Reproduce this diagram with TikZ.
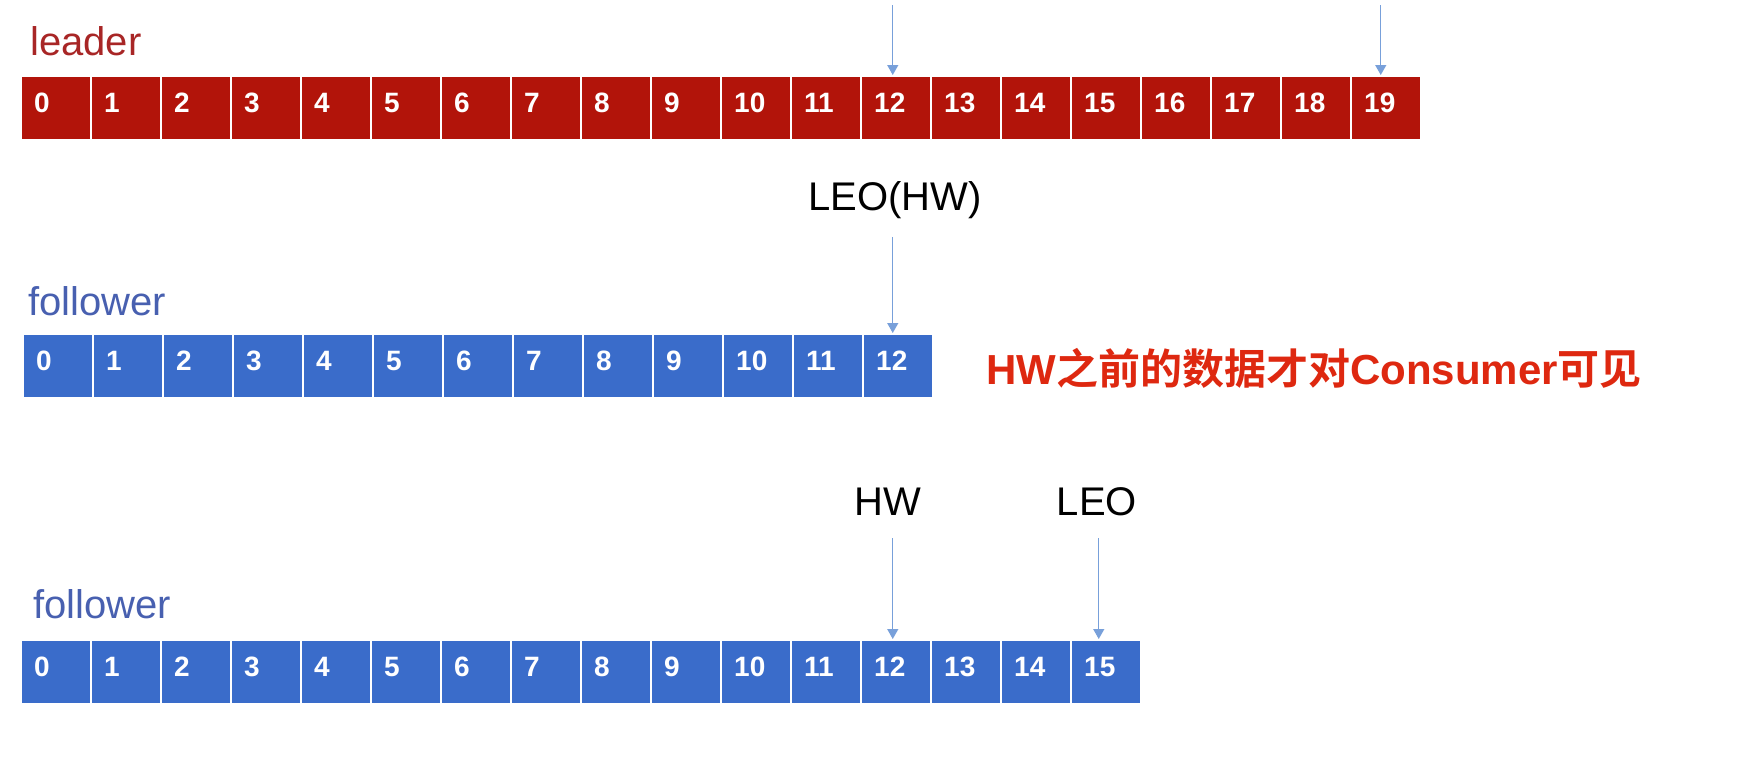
\documentclass[tikz,border=0pt]{standalone}
\usepackage{fontspec}
\setmainfont{Liberation Sans}
\newfontfamily\cjk{Noto Sans CJK SC}[BoldFont={* Bold}]
\usetikzlibrary{arrows.meta,calc}
\definecolor{leadfill}{RGB}{178,20,10}
\definecolor{leadtext}{RGB}{168,38,38}
\definecolor{follfill}{RGB}{58,108,202}
\definecolor{folltext}{RGB}{72,96,176}
\definecolor{arrblue}{RGB}{120,160,218}
\definecolor{notered}{RGB}{222,40,16}
\tikzset{
  cellbox/.style={draw=white, line width=1.5pt, minimum width=70pt, minimum height=64pt, inner sep=0pt, anchor=north west},
  lcell/.style={cellbox, fill=leadfill},
  fcell/.style={cellbox, fill=follfill},
  num/.style={text=white, font=\fontsize{28}{30}\selectfont\bfseries, inner sep=0pt, anchor=base west},
  rowname/.style={font=\fontsize{40}{44}\selectfont, inner sep=0pt, anchor=west},
  ptr/.style={font=\fontsize{40}{44}\selectfont, inner sep=0pt, text=black},
  arr/.style={draw=arrblue, line width=1.3pt, -{Triangle[length=10pt,width=11pt]}}
}
\begin{document}
\begin{tikzpicture}[x=1pt,y=-1pt]
\useasboundingbox (0,0) rectangle (1738,779);
% row names
\node[rowname, text=leadtext] (leader) at (30,41) {leader};
\node[rowname, text=folltext] (f1name) at (28,301) {follower};
\node[rowname, text=folltext] (f2name) at (33,604) {follower};
% leader row
\foreach \i in {0,...,19}{
  \node[lcell] (L\i) at (20+70*\i,75) {};
  \node[num] at ($(L\i.north west)+(14,37)$) {\i};
}
% follower 1
\foreach \i in {0,...,12}{
  \node[fcell] (A\i) at (22+70*\i,333) {};
  \node[num] at ($(A\i.north west)+(14,37)$) {\i};
}
% follower 2
\foreach \i in {0,...,15}{
  \node[fcell] (B\i) at (20+70*\i,639) {};
  \node[num] at ($(B\i.north west)+(14,37)$) {\i};
}
% leader arrows
\coordinate (t12) at ($(L12.north)+(-3,-70)$);
\coordinate (t19) at ($(L19.north)+(-5,-70)$);
\draw[arr] (t12) -- ($(L12.north)+(-3,0)$);
\draw[arr] (t19) -- ($(L19.north)+(-5,0)$);
% follower 1 pointer
\node[ptr] (leohw) at (895,200) {LEO(HW)};
\draw[arr] ($(leohw.south -| A12.north)+(-5,18)$) -- ($(A12.north)+(-5,0)$);
% follower 2 pointers
\node[ptr] (hw) at (888,502) {HW};
\node[ptr] (leo) at (1097,502) {LEO};
\draw[arr] ($(B12.north)+(-3,-101)$) -- ($(B12.north)+(-3,0)$);
\draw[arr] ($(B15.north)+(-7,-101)$) -- ($(B15.north)+(-7,0)$);
% note
\node[text=notered, font=\fontsize{42}{44}\selectfont\bfseries, inner sep=0pt, anchor=west] (note) at (986,368) {HW{\cjk\bfseries 之前的数据才对}Consumer{\cjk\bfseries 可见}};
\end{tikzpicture}
\end{document}
